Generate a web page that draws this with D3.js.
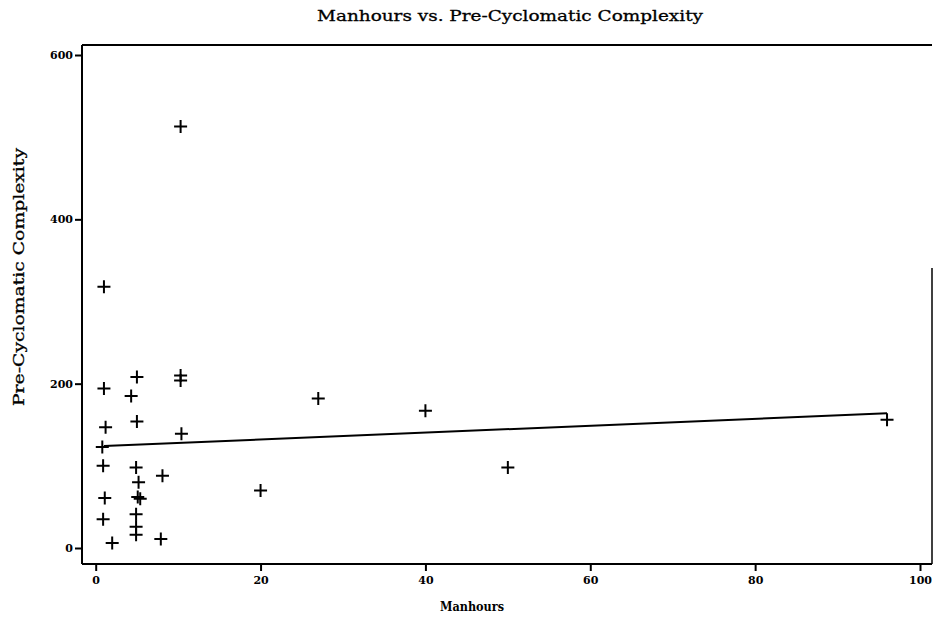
<!DOCTYPE html>
<html>
<head>
<meta charset="utf-8">
<script src="https://cdn.jsdelivr.net/npm/d3@7"></script>
<style>
  html, body { margin: 0; padding: 0; background: #fff; }
  svg { display: block; }
</style>
</head>
<body>
<svg id="chart" width="935" height="624"></svg>
<script>
// ---- data ----
const manhours = [10.3, 1, 1, 5, 4.3, 10.3, 10.3, 1.2, 5, 10.4, 0.8, 0.9, 4.9, 8.1, 5.2, 1.1, 5.1, 5.4, 0.9, 4.9, 4.9, 4.9, 2, 7.9, 20, 27, 40, 50, 96];
const complexity = [513, 318, 194, 208, 185, 210, 204, 147, 154, 139, 123, 100, 98, 88, 80, 61, 62, 60, 35, 41, 26, 16, 6, 11, 70, 182, 167, 98, 156];
const fitX = [1, 96];
const fitY = [124, 164];
const xTicks = [0, 20, 40, 60, 80, 100];
const yTicks = [0, 200, 400, 600];
const titleText = "Manhours vs. Pre-Cyclomatic Complexity";
const xLabel = "Manhours";
const yLabel = "Pre-Cyclomatic Complexity";

const svg = d3.select("#chart");
const frame = { left: 82, right: 932, top: 45, bottom: 564 };

const x = d3.scaleLinear().domain([0, 100]).range([95.7, 920]);
const y = d3.scaleLinear().domain([0, 600]).range([548, 55]);

const serif = "'DejaVu Serif', 'Liberation Serif', serif";

// frame
const g = svg.append("g");
g.append("line").attr("x1", frame.left).attr("x2", frame.right).attr("y1", frame.top).attr("y2", frame.top)
  .attr("stroke", "#000").attr("stroke-width", 2);
g.append("line").attr("x1", frame.left).attr("x2", frame.left).attr("y1", frame.top).attr("y2", frame.bottom)
  .attr("stroke", "#000").attr("stroke-width", 2);
g.append("line").attr("x1", frame.left).attr("x2", frame.right).attr("y1", frame.bottom).attr("y2", frame.bottom)
  .attr("stroke", "#000").attr("stroke-width", 2);
g.append("line").attr("x1", frame.right).attr("x2", frame.right).attr("y1", 268).attr("y2", frame.bottom)
  .attr("stroke", "#000").attr("stroke-width", 1.5);

// axes
const yAxis = d3.axisLeft(y).tickValues(yTicks).tickSize(7).tickPadding(2).tickFormat(d3.format("d"));
const yG = svg.append("g").attr("transform", `translate(${frame.left},0)`).call(yAxis);
yG.select(".domain").remove();
yG.selectAll(".tick line").attr("stroke", "#000").attr("stroke-width", 2);
yG.selectAll(".tick text").attr("font-family", serif).attr("font-weight", "bold")
  .attr("font-size", 11).attr("fill", "#000");

const xAxis = d3.axisBottom(x).tickValues(xTicks).tickSize(7).tickPadding(5).tickFormat(d3.format("d"));
const xG = svg.append("g").attr("transform", `translate(0,${frame.bottom})`).call(xAxis);
xG.select(".domain").remove();
xG.selectAll(".tick line").attr("stroke", "#000").attr("stroke-width", 2);
xG.selectAll(".tick text").attr("font-family", serif).attr("font-weight", "bold")
  .attr("font-size", 11).attr("fill", "#000");

// regression line
const line = d3.line().x(d => x(d[0])).y(d => y(d[1]));
svg.append("path").datum(d3.zip(fitX, fitY)).attr("d", line)
  .attr("fill", "none").attr("stroke", "#000").attr("stroke-width", 2);

// plus markers
const pts = d3.zip(manhours, complexity);
const s = 6.5;
svg.append("g").selectAll("path").data(pts).join("path")
  .attr("d", d => `M${x(d[0]) - s},${y(d[1])}H${x(d[0]) + s}M${x(d[0])},${y(d[1]) - s}V${y(d[1]) + s}`)
  .attr("stroke", "#000").attr("stroke-width", 2).attr("fill", "none");

// title and labels
svg.append("text").attr("x", 510).attr("y", 21).attr("text-anchor", "middle")
  .attr("font-family", serif).attr("font-size", 15).attr("fill", "#000")
  .attr("stroke", "#000").attr("stroke-width", 0.3)
  .attr("textLength", 386).attr("lengthAdjust", "spacingAndGlyphs").text(titleText);
svg.append("text").attr("x", 472).attr("y", 611).attr("text-anchor", "middle")
  .attr("font-family", serif).attr("font-size", 13).attr("font-weight", "bold").attr("fill", "#000")
  .attr("textLength", 64).attr("lengthAdjust", "spacingAndGlyphs").text(xLabel);
svg.append("text").attr("transform", "translate(24,277) rotate(-90)").attr("text-anchor", "middle")
  .attr("font-family", serif).attr("font-size", 15).attr("fill", "#000")
  .attr("stroke", "#000").attr("stroke-width", 0.3)
  .attr("textLength", 258).attr("lengthAdjust", "spacingAndGlyphs").text(yLabel);
</script>
</body>
</html>
